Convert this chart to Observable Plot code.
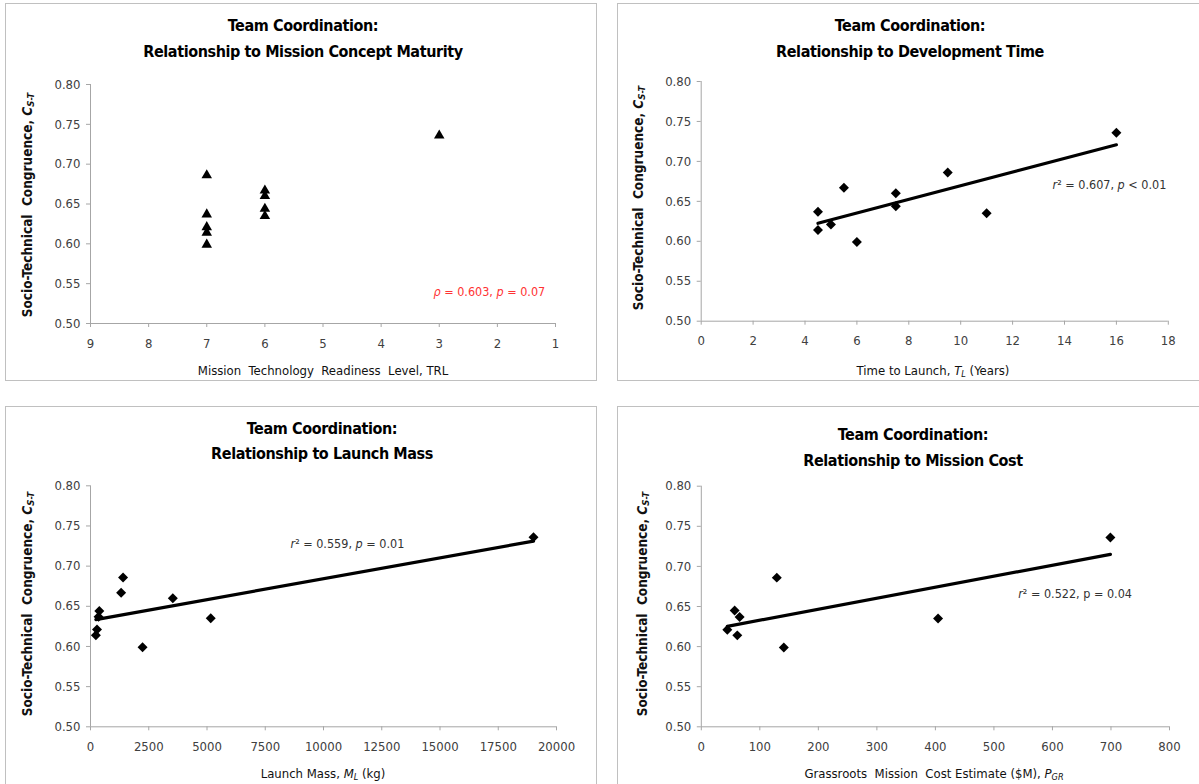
<!DOCTYPE html>
<html>
<head>
<meta charset="utf-8">
<script src="https://cdn.jsdelivr.net/npm/d3@7"></script>
<script src="https://cdn.jsdelivr.net/npm/@observablehq/plot@0.6"></script>
<style>
  html, body { margin: 0; padding: 0; background: #fff; }
  #root { position: relative; width: 1199px; height: 784px; overflow: hidden; background: #fff;
          font-family: "Liberation Sans Narrow", "DejaVu Sans Condensed", Roboto, sans-serif; }
  .box { position: absolute; border: 1px solid #c0c0c0; box-sizing: border-box; }
  .plot { position: absolute; }
  .plot svg text { fill: #404040; }
  .title { position: absolute; transform: translateX(-50%); text-align: center; font-weight: bold;
           font-size: 16px; letter-spacing: -0.4px; line-height: 26px; color: #000; white-space: nowrap; }
  .ylab { position: absolute; transform: translate(-50%, -50%) rotate(-90deg); font-weight: bold;
          font-size: 13.5px; color: #111; white-space: nowrap; }
  .xlab { position: absolute; transform: translate(-50%, -50%); font-size: 13px; color: #111; white-space: nowrap; }
  sub { font-size: 0.7em; vertical-align: -0.25em; line-height: 0; }
</style>
</head>
<body>
<div id="root"></div>
<script>
// ---------- data ----------
const yTicks = [0.50, 0.55, 0.60, 0.65, 0.70, 0.75, 0.80];

// Panel 1: Mission Technology Readiness Level (TRL)
const trlValues = [7, 7, 7, 7, 7, 6, 6, 6, 6, 3];
const trlCongruence = [0.686, 0.637, 0.621, 0.614, 0.599, 0.667, 0.660, 0.644, 0.635, 0.736];
const trlTicks = [9, 8, 7, 6, 5, 4, 3, 2, 1];

// Panel 2: Time to launch (years)
const timeValues = [4.5, 4.5, 5, 5.5, 6, 7.5, 7.5, 9.5, 11, 16];
const timeCongruence = [0.637, 0.614, 0.621, 0.667, 0.599, 0.660, 0.644, 0.686, 0.635, 0.736];
const timeTicks = [0, 2, 4, 6, 8, 10, 12, 14, 16, 18];

// Panel 3: Launch mass (kg)
const massValues = [230, 280, 345, 378, 1315, 1397, 2235, 3533, 5160, 19014];
const massCongruence = [0.614, 0.621, 0.637, 0.644, 0.667, 0.686, 0.599, 0.660, 0.635, 0.736];
const massTicks = [0, 2500, 5000, 7500, 10000, 12500, 15000, 17500, 20000];

// Panel 4: Grassroots mission cost estimate ($M)
const costValues = [44.5, 57, 61.5, 65.5, 129, 141, 404.6, 699];
const costCongruence = [0.621, 0.645, 0.614, 0.637, 0.686, 0.599, 0.635, 0.736];
const costTicks = [0, 100, 200, 300, 400, 500, 600, 700, 800];

// ---------- layout / drawing ----------
const root = document.getElementById("root");
const FONT = '"Liberation Sans Narrow", "DejaVu Sans Condensed", Roboto, sans-serif';

function addDiv(cls, style, html) {
  const d = document.createElement("div");
  d.className = cls;
  Object.assign(d.style, style);
  if (html != null) d.innerHTML = html;
  root.appendChild(d);
  return d;
}

function linReg(xs, ys) {
  const mx = d3.mean(xs), my = d3.mean(ys);
  const sxy = d3.sum(xs, (x, i) => (x - mx) * (ys[i] - my));
  const sxx = d3.sum(xs, x => (x - mx) ** 2);
  const b = sxy / sxx, a = my - b * mx;
  const [x0, x1] = d3.extent(xs);
  return [{x: x0, y: a + b * x0}, {x: x1, y: a + b * x1}];
}

function panel(cfg) {
  const data = cfg.xs.map((x, i) => ({x, y: cfg.ys[i]}));
  const marks = [
    Plot.ruleX([cfg.xDomain[0]], {stroke: "#a6a6a6", strokeWidth: 1}),
    Plot.ruleY([0.5], {stroke: "#a6a6a6", strokeWidth: 1})
  ];
  if (cfg.regression) {
    marks.push(Plot.line(linReg(cfg.xs, cfg.ys), {x: "x", y: "y", stroke: "#000", strokeWidth: 3.2}));
  }
  marks.push(Plot.dot(data, {x: "x", y: "y", symbol: cfg.symbol, r: cfg.r, fill: "#000", stroke: "none"}));
  marks.push(Plot.text([cfg.ann], {
    x: "x", y: "y", text: d => d.parts.map(p => p.t).join(""),
    textAnchor: "start", fontSize: 12.5, fontFamily: FONT
  }));
  const svg = Plot.plot({
    width: cfg.width, height: cfg.height,
    marginLeft: cfg.m[0], marginRight: cfg.m[1], marginTop: cfg.m[2], marginBottom: cfg.m[3],
    style: {fontFamily: FONT, fontSize: "13px", color: "#a6a6a6", background: "transparent", overflow: "visible"},
    x: {domain: cfg.xDomain, ticks: cfg.xTicks, tickSize: 4, tickPadding: 11, label: null, tickFormat: d => String(d)},
    y: {domain: [0.5, 0.8], ticks: yTicks, tickSize: 4, tickPadding: 6, label: null, tickFormat: d3.format(".2f")},
    marks
  });
  // rich annotation text (italic symbols)
  const t = d3.select(svg).selectAll('g[aria-label="text"] text');
  t.each(function() {
    const el = d3.select(this);
    el.text(null).style("fill", cfg.ann.color);
    cfg.ann.parts.forEach(p => {
      const ts = el.append("tspan").text(p.t);
      if (p.i) ts.attr("font-style", "italic");
    });
  });
  const holder = addDiv("plot", {left: cfg.left + "px", top: cfg.top + "px"});
  holder.appendChild(svg);
}

// borders
addDiv("box", {left: "5px", top: "3px", width: "592px", height: "378px"});
addDiv("box", {left: "617px", top: "3px", width: "600px", height: "378px"});
addDiv("box", {left: "5px", top: "406px", width: "592px", height: "400px"});
addDiv("box", {left: "617px", top: "406px", width: "600px", height: "400px"});

// Panel 1
panel({
  left: 0, top: 0, width: 600, height: 390, m: [90, 45, 84, 67],
  xDomain: [9, 1], xTicks: trlTicks, xs: trlValues, ys: trlCongruence,
  symbol: "triangle", r: 3.9, regression: false,
  ann: {x: 3.1, y: 0.54, color: "#ff3333",
        parts: [{t: "ρ", i: true}, {t: " = 0.603, "}, {t: "p", i: true}, {t: " = 0.07"}]}
});
// Panel 2
panel({
  left: 600, top: 0, width: 599, height: 390, m: [100.7, 31.2, 81, 69.3],
  xDomain: [0, 18], xTicks: timeTicks, xs: timeValues, ys: timeCongruence,
  symbol: "diamond2", r: 4.5, regression: true,
  ann: {x: 13.54, y: 0.671, color: "#333",
        parts: [{t: "r", i: true}, {t: "² = 0.607, "}, {t: "p", i: true}, {t: " < 0.01"}]}
});
// Panel 3
panel({
  left: 0, top: 395, width: 600, height: 389, m: [90, 44, 90.3, 57.7],
  xDomain: [0, 20000], xTicks: massTicks, xs: massValues, ys: massCongruence,
  symbol: "diamond2", r: 4.5, regression: true,
  ann: {x: 8584, y: 0.727, color: "#333",
        parts: [{t: "r", i: true}, {t: "² = 0.559, "}, {t: "p", i: true}, {t: " = 0.01"}]}
});
// Panel 4
panel({
  left: 600, top: 395, width: 599, height: 389, m: [100.8, 30, 90.7, 57.7],
  xDomain: [0, 800], xTicks: costTicks, xs: costValues, ys: costCongruence,
  symbol: "diamond2", r: 4.5, regression: true,
  ann: {x: 541.5, y: 0.666, color: "#333",
        parts: [{t: "r", i: true}, {t: "² = 0.522, p = 0.04"}]}
});

// titles
addDiv("title", {left: "303px", top: "13px"}, "Team Coordination:<br>Relationship to Mission Concept Maturity");
addDiv("title", {left: "910px", top: "13px"}, "Team Coordination:<br>Relationship to Development Time");
addDiv("title", {left: "322px", top: "416px", lineHeight: "25px"}, "Team Coordination:<br>Relationship to Launch Mass");
addDiv("title", {left: "913px", top: "422px"}, "Team Coordination:<br>Relationship to Mission Cost");

// y-axis labels
const yLab = "Socio-Technical&nbsp; Congruence, <i>C</i><sub><i>S-T</i></sub>";
addDiv("ylab", {left: "27px", top: "205px"}, yLab);
addDiv("ylab", {left: "638px", top: "198px"}, yLab);
addDiv("ylab", {left: "27px", top: "604px"}, yLab);
addDiv("ylab", {left: "642px", top: "604px"}, yLab);

// x-axis labels
addDiv("xlab", {left: "323px", top: "370px"}, "Mission&nbsp; Technology&nbsp; Readiness&nbsp; Level, TRL");
addDiv("xlab", {left: "933px", top: "370px"}, "Time to Launch, <i>T</i><sub><i>L</i></sub> (Years)");
addDiv("xlab", {left: "323px", top: "773px"}, "Launch Mass, <i>M</i><sub><i>L</i></sub> (kg)");
addDiv("xlab", {left: "934px", top: "773px"}, "Grassroots&nbsp; Mission&nbsp; Cost Estimate ($M), <i>P</i><sub><i>GR</i></sub>");
</script>
</body>
</html>
